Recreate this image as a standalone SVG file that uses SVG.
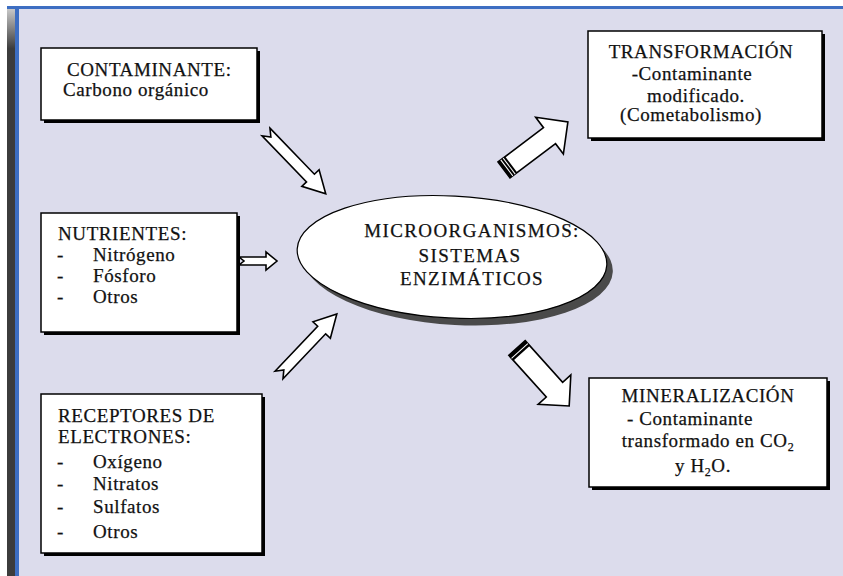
<svg xmlns="http://www.w3.org/2000/svg" width="843" height="576" viewBox="0 0 843 576">
<defs>
<linearGradient id="band" x1="0" y1="0" x2="0" y2="1" gradientUnits="objectBoundingBox">
<stop offset="0" stop-color="#c8c8c8"/>
<stop offset="0.07" stop-color="#3c3c3c"/>
<stop offset="1" stop-color="#3c3c3c"/>
</linearGradient>
<style>
.box{fill:#fff;stroke:#000;stroke-width:1.5}
.sh{fill:#000}
.t{font-family:"Liberation Serif","Times New Roman",serif;font-size:19px;fill:#111;stroke:#111;stroke-width:0.25;letter-spacing:0.6px}
.e{font-family:"Liberation Serif","Times New Roman",serif;font-size:19px;fill:#111;stroke:#111;stroke-width:0.25;letter-spacing:1.4px}
.mid{text-anchor:middle}
.arr{fill:#fff;stroke:#000;stroke-width:1.6;stroke-linejoin:miter}
.big{fill:#fff;stroke:#000;stroke-width:1.6;stroke-linejoin:miter}
</style>
</defs>
<rect x="0" y="0" width="843" height="576" fill="#fff"/>
<rect x="19" y="9" width="824" height="567" fill="#dcdcec"/>
<rect x="7" y="6" width="836" height="3" fill="#3d6ec2"/>
<rect x="7" y="9" width="8" height="567" fill="url(#band)"/>
<rect x="15" y="9" width="4" height="567" fill="#3d6ec2"/>

<g id="contaminante">
<rect class="sh" x="44" y="51" width="216" height="72"/>
<rect class="box" x="41" y="48" width="216" height="72"/>
<text class="t" x="67" y="76">CONTAMINANTE:</text>
<text class="t" x="63" y="96">Carbono orgánico</text>
</g>

<g id="nutrientes">
<rect class="sh" x="44" y="216" width="196" height="119"/>
<rect class="box" x="41" y="213" width="196" height="119"/>
<text class="t" x="58" y="240">NUTRIENTES:</text>
<text class="t" x="57" y="261">-</text><text class="t" x="93" y="261">Nitrógeno</text>
<text class="t" x="57" y="282">-</text><text class="t" x="93" y="282">Fósforo</text>
<text class="t" x="57" y="303">-</text><text class="t" x="93" y="303">Otros</text>
</g>

<g id="receptores">
<rect class="sh" x="44" y="397" width="221" height="159"/>
<rect class="box" x="41" y="394" width="221" height="159"/>
<text class="t" x="58" y="422">RECEPTORES DE</text>
<text class="t" x="58" y="443">ELECTRONES:</text>
<text class="t" x="57" y="468">-</text><text class="t" x="93" y="468">Oxígeno</text>
<text class="t" x="57" y="490">-</text><text class="t" x="93" y="490">Nitratos</text>
<text class="t" x="57" y="513">-</text><text class="t" x="93" y="513">Sulfatos</text>
<text class="t" x="57" y="538">-</text><text class="t" x="93" y="538">Otros</text>
</g>

<g id="microorganismos">
<ellipse cx="458" cy="264" rx="155" ry="61" fill="#4a4a4a" transform="rotate(3 458 264)"/>
<ellipse cx="452" cy="257" rx="155" ry="61" fill="#fff" stroke="#000" stroke-width="1.2" transform="rotate(3 452 257)"/>
<text class="e mid" x="472" y="237">MICROORGANISMOS:</text>
<text class="e mid" x="470" y="262">SISTEMAS</text>
<text class="e mid" x="472" y="285">ENZIMÁTICOS</text>
</g>

<g id="transformacion">
<rect class="sh" x="591" y="34" width="234" height="107"/>
<rect class="box" x="588" y="31" width="234" height="107"/>
<text class="t mid" x="701" y="58">TRANSFORMACIÓN</text>
<text class="t mid" x="692" y="80">-Contaminante</text>
<text class="t mid" x="696" y="102">modificado.</text>
<text class="t mid" x="691" y="121">(Cometabolismo)</text>
</g>

<g id="mineralizacion">
<rect class="sh" x="592" y="381" width="238" height="109"/>
<rect class="box" x="589" y="378" width="238" height="109"/>
<text class="t mid" x="708" y="402">MINERALIZACIÓN</text>
<text class="t mid" x="690" y="425">- Contaminante</text>
<text class="t mid" x="708" y="447">transformado en CO<tspan font-size="12" dy="4">2</tspan></text>
<text class="t mid" x="703" y="472">y H<tspan font-size="12" dy="4">2</tspan><tspan dy="-4">O.</tspan></text>
</g>

<g id="connectors">
<path class="arr" transform="translate(266,132) rotate(46)" d="M0,-5.5 L64,-5.5 L64,-12 L86,0 L64,12 L64,5.5 L0,5.5 L7,0 Z"/>
<path class="arr" transform="translate(239,261)" d="M0,-4 L27,-4 L27,-9 L38,0 L27,9 L27,4 L0,4 L5,0 Z"/>
<path class="arr" transform="translate(279,375) rotate(-46.5)" d="M0,-5.5 L62,-5.5 L62,-12 L84,0 L62,12 L62,5.5 L0,5.5 L7,0 Z"/>
<g transform="translate(504,170) rotate(-37)">
<path class="big" d="M0,-10 L57,-10 L57,-23 L80,0 L57,23 L57,10 L0,10 Z"/>
<rect x="0" y="-10" width="9" height="20" fill="#000"/>
<rect x="3" y="-10" width="1" height="20" fill="#fff"/>
<rect x="6" y="-10" width="1" height="20" fill="#fff"/>
</g>
<g transform="translate(517,348) rotate(48)">
<path class="big" d="M0,-11 L56,-11 L56,-22 L78,0 L56,22 L56,11 L0,11 Z"/>
<rect x="0" y="-11" width="7" height="22" fill="#000"/>
<rect x="3.5" y="-11" width="1" height="22" fill="#fff"/>
</g>
</g>
</svg>
